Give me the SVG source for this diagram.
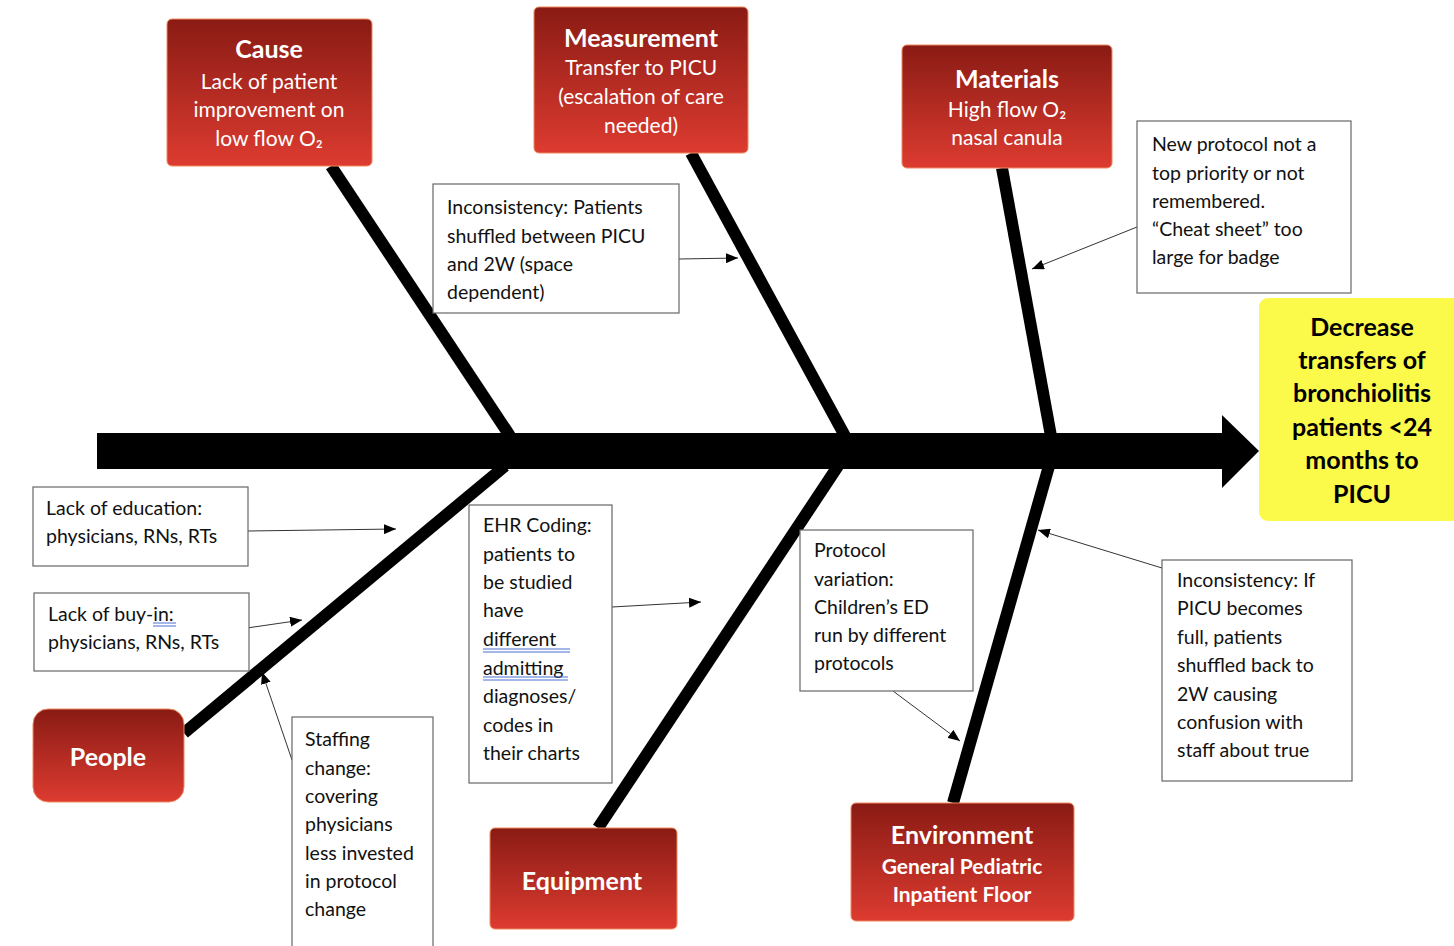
<svg xmlns="http://www.w3.org/2000/svg" width="1454" height="946" viewBox="0 0 1454 946">
<defs>
<linearGradient id="red" x1="0" y1="0" x2="0" y2="1">
<stop offset="0" stop-color="#891B14"/>
<stop offset="1" stop-color="#DD3B30"/>
</linearGradient>
<marker id="ah" viewBox="0 0 12 10" refX="12" refY="5" markerWidth="12" markerHeight="10" markerUnits="userSpaceOnUse" orient="auto">
<path d="M0,0 L12,5 L0,10 z" fill="#000"/>
</marker>
<style>
.rb{fill:url(#red);stroke:#EE8A5E;stroke-width:1}
.nb{fill:#fff;stroke:#666;stroke-width:1.2}
.t{font-family:Lato,"Open Sans",sans-serif;font-size:19.5px;fill:#111}
.w{font-family:Lato,"Open Sans",sans-serif;fill:#fff;text-anchor:middle}
.wt{font-weight:bold;font-size:25px}
.ws{font-size:21px}
.y{font-family:Lato,"Open Sans",sans-serif;font-weight:bold;font-size:25px;fill:#000;text-anchor:middle}
.bone{stroke:#000;stroke-width:12;fill:none}
.con{stroke:#333;stroke-width:1;fill:none;marker-end:url(#ah)}
.ul{stroke:#4A6FD0;stroke-width:1}
</style>
</defs>
<rect width="1454" height="946" fill="#fff"/>

<g id="connectors">
<rect x="97" y="433" width="1127" height="36" fill="#000"/>
<polygon points="1222,415 1259,451 1222,488" fill="#000"/>
<line class="bone" x1="331" y1="166" x2="510" y2="436"/>
<line class="bone" x1="691" y1="153" x2="845" y2="436"/>
<line class="bone" x1="1002" y1="168" x2="1051" y2="436"/>
<line class="bone" x1="184" y1="733" x2="505" y2="466"/>
<line class="bone" x1="598" y1="828" x2="838" y2="466"/>
<line class="bone" x1="953" y1="803" x2="1049" y2="466"/>
<line class="con" x1="679" y1="259" x2="738" y2="258"/>
<line class="con" x1="1137" y1="227" x2="1032" y2="269"/>
<line class="con" x1="248" y1="531" x2="396" y2="529"/>
<line class="con" x1="247" y1="628" x2="302" y2="620"/>
<line class="con" x1="292" y1="760" x2="262" y2="672"/>
<line class="con" x1="612" y1="607" x2="701" y2="602"/>
<line class="con" x1="893" y1="691" x2="960" y2="741"/>
<line class="con" x1="1162" y1="568" x2="1038" y2="530"/>
</g>

<g id="cause">
<rect class="rb" x="167" y="19" width="205" height="147" rx="5"/>
<text class="w wt" x="269" y="58">Cause</text>
<text class="w ws" x="269" y="89">Lack of patient</text>
<text class="w ws" x="269" y="117">improvement on</text>
<text class="w ws" x="269" y="146">low flow O₂</text>
</g>

<g id="measurement">
<rect class="rb" x="534" y="7" width="214" height="146" rx="5"/>
<text class="w wt" x="641" y="47">Measurement</text>
<text class="w ws" x="641" y="75">Transfer to PICU</text>
<text class="w ws" x="641" y="104">(escalation of care</text>
<text class="w ws" x="641" y="133">needed)</text>
</g>

<g id="materials">
<rect class="rb" x="902" y="45" width="210" height="123" rx="5"/>
<text class="w wt" x="1007" y="88">Materials</text>
<text class="w ws" x="1007" y="117">High flow O₂</text>
<text class="w ws" x="1007" y="145">nasal canula</text>
</g>

<g id="people">
<rect class="rb" x="33" y="709" width="151" height="93" rx="15"/>
<text class="w wt" x="108" y="766">People</text>
</g>

<g id="equipment">
<rect class="rb" x="490" y="828" width="187" height="101" rx="5"/>
<text class="w wt" x="582" y="890">Equipment</text>
</g>

<g id="environment">
<rect class="rb" x="851" y="803" width="223" height="118" rx="5"/>
<text class="w wt" x="962" y="844">Environment</text>
<text class="w" x="962" y="874" font-weight="bold" font-size="21">General Pediatric</text>
<text class="w" x="962" y="902" font-weight="bold" font-size="21">Inpatient Floor</text>
</g>

<g id="effect">
<rect x="1259" y="298" width="205" height="223" rx="9" fill="#FBF94A"/>
<text class="y" x="1362" y="336">Decrease</text>
<text class="y" x="1362" y="369">transfers of</text>
<text class="y" x="1362" y="402">bronchiolitis</text>
<text class="y" x="1362" y="436">patients &lt;24</text>
<text class="y" x="1362" y="469">months to</text>
<text class="y" x="1362" y="503">PICU</text>
</g>

<g id="note-shuffled">
<rect class="nb" x="433" y="184" width="246" height="129"/>
<text class="t" x="447" y="214">Inconsistency: Patients</text>
<text class="t" x="447" y="243">shuffled between PICU</text>
<text class="t" x="447" y="271">and 2W (space</text>
<text class="t" x="447" y="299">dependent)</text>
</g>

<g id="note-protocol">
<rect class="nb" x="1137" y="121" width="214" height="172"/>
<text class="t" x="1152" y="151">New protocol not a</text>
<text class="t" x="1152" y="180">top priority or not</text>
<text class="t" x="1152" y="208">remembered.</text>
<text class="t" x="1152" y="236">“Cheat sheet” too</text>
<text class="t" x="1152" y="264">large for badge</text>
</g>

<g id="note-education">
<rect class="nb" x="33" y="487" width="215" height="79"/>
<text class="t" x="46" y="515">Lack of education:</text>
<text class="t" x="46" y="543">physicians, RNs, RTs</text>
</g>

<g id="note-buyin">
<rect class="nb" x="34" y="593" width="215" height="78"/>
<text class="t" x="48" y="621">Lack of buy-in:</text>
<text class="t" x="48" y="649">physicians, RNs, RTs</text>
<line class="ul" x1="153" y1="623" x2="176" y2="623"/>
<line class="ul" x1="153" y1="626" x2="176" y2="626"/>
</g>

<g id="note-staffing">
<rect class="nb" x="292" y="717" width="141" height="240"/>
<text class="t" x="305" y="746">Staffing</text>
<text class="t" x="305" y="775">change:</text>
<text class="t" x="305" y="803">covering</text>
<text class="t" x="305" y="831">physicians</text>
<text class="t" x="305" y="860">less invested</text>
<text class="t" x="305" y="888">in protocol</text>
<text class="t" x="305" y="916">change</text>
</g>

<g id="note-ehr">
<rect class="nb" x="469" y="505" width="143" height="278"/>
<text class="t" x="483" y="532">EHR Coding:</text>
<text class="t" x="483" y="561">patients to</text>
<text class="t" x="483" y="589">be studied</text>
<text class="t" x="483" y="617">have</text>
<text class="t" x="483" y="646">different</text>
<text class="t" x="483" y="675">admitting</text>
<text class="t" x="483" y="703">diagnoses/</text>
<text class="t" x="483" y="732">codes in</text>
<text class="t" x="483" y="760">their charts</text>
<line class="ul" x1="483" y1="649" x2="570" y2="649"/>
<line class="ul" x1="483" y1="652" x2="570" y2="652"/>
<line class="ul" x1="483" y1="677" x2="568" y2="677"/>
<line class="ul" x1="483" y1="680" x2="568" y2="680"/>
</g>

<g id="note-variation">
<rect class="nb" x="800" y="530" width="173" height="161"/>
<text class="t" x="814" y="557">Protocol</text>
<text class="t" x="814" y="586">variation:</text>
<text class="t" x="814" y="614">Children’s ED</text>
<text class="t" x="814" y="642">run by different</text>
<text class="t" x="814" y="670">protocols</text>
</g>

<g id="note-full">
<rect class="nb" x="1162" y="560" width="190" height="221"/>
<text class="t" x="1177" y="587">Inconsistency: If</text>
<text class="t" x="1177" y="615">PICU becomes</text>
<text class="t" x="1177" y="644">full, patients</text>
<text class="t" x="1177" y="672">shuffled back to</text>
<text class="t" x="1177" y="701">2W causing</text>
<text class="t" x="1177" y="729">confusion with</text>
<text class="t" x="1177" y="757">staff about true</text>
</g>
</svg>
